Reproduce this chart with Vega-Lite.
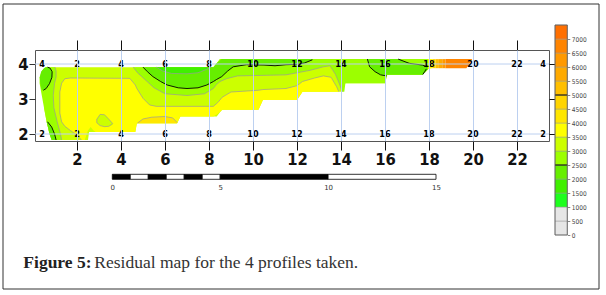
{
  "$schema": "https://vega.github.io/schema/vega-lite/v6.json",
  "width": 514,
  "height": 91,
  "autosize": {"type": "none"},
  "padding": {"left": 35, "top": 50, "right": 57, "bottom": 154},
  "background": "white",
  "config": {"view": {"stroke": "#555555", "strokeWidth": 1}, "axis": {"labelFlush": false, "labelOverlap": false}},
  "datasets": {
    "va": [
      {"p":"E","v":3000,"x":0.5,"y":3.86,"y2":2.75},{"p":"E","v":3000,"x":0.62,"y":3.91,"y2":2.35},{"p":"E","v":3000,"x":0.75,"y":3.91,"y2":2.0},{"p":"E","v":3000,"x":0.85,"y":3.91,"y2":1.83},{"p":"E","v":3000,"x":2.5,"y":3.91,"y2":1.83},{"p":"E","v":3000,"x":2.55,"y":3.91,"y2":2.06},{"p":"E","v":3000,"x":4.65,"y":3.91,"y2":2.06},{"p":"E","v":3000,"x":4.72,"y":3.91,"y2":2.31},{"p":"E","v":3000,"x":6.55,"y":3.91,"y2":2.31},{"p":"E","v":3000,"x":6.7,"y":3.91,"y2":2.5},{"p":"E","v":3000,"x":8.2,"y":3.91,"y2":2.5},{"p":"E","v":3000,"x":8.35,"y":4.02,"y2":2.5},{"p":"E","v":3000,"x":8.5,"y":4.14,"y2":2.62},{"p":"E","v":3000,"x":8.6,"y":4.14,"y2":2.69},{"p":"E","v":3000,"x":10.25,"y":4.14,"y2":2.69},{"p":"E","v":3000,"x":10.45,"y":4.14,"y2":2.97},{"p":"E","v":3000,"x":12.0,"y":4.14,"y2":2.97},{"p":"E","v":3000,"x":12.25,"y":4.14,"y2":3.21},{"p":"E","v":3000,"x":14.0,"y":4.14,"y2":3.21},{"p":"E","v":3000,"x":14.2,"y":4.14,"y2":3.45},{"p":"E","v":3000,"x":16.0,"y":4.14,"y2":3.45},{"p":"E","v":3000,"x":16.1,"y":4.14,"y2":3.69},{"p":"E","v":3000,"x":17.7,"y":4.14,"y2":3.69},{"p":"E","v":3000,"x":17.85,"y":4.14,"y2":3.78},{"p":"E","v":3000,"x":18.0,"y":4.14,"y2":3.88},
      {"p":"Y","v":3500,"x":1.22,"y":3.2,"y2":2.6},{"p":"Y","v":3500,"x":1.3,"y":3.45,"y2":2.35},{"p":"Y","v":3500,"x":1.45,"y":3.58,"y2":2.22},{"p":"Y","v":3500,"x":1.7,"y":3.6,"y2":2.1},{"p":"Y","v":3500,"x":2.0,"y":3.6,"y2":1.97},{"p":"Y","v":3500,"x":2.2,"y":3.6,"y2":1.83},{"p":"Y","v":3500,"x":2.35,"y":3.6,"y2":1.83},{"p":"Y","v":3500,"x":2.5,"y":3.6,"y2":2.1},{"p":"Y","v":3500,"x":2.62,"y":3.6,"y2":2.2},{"p":"Y","v":3500,"x":2.75,"y":3.6,"y2":2.1},{"p":"Y","v":3500,"x":2.85,"y":3.6,"y2":2.06},{"p":"Y","v":3500,"x":4.0,"y":3.6,"y2":2.06},{"p":"Y","v":3500,"x":4.4,"y":3.59,"y2":2.06},{"p":"Y","v":3500,"x":4.65,"y":3.4,"y2":2.06},{"p":"Y","v":3500,"x":4.72,"y":3.3,"y2":2.31},{"p":"Y","v":3500,"x":5.0,"y":3.02,"y2":2.31},{"p":"Y","v":3500,"x":5.3,"y":2.83,"y2":2.31},{"p":"Y","v":3500,"x":5.6,"y":2.79,"y2":2.31},{"p":"Y","v":3500,"x":6.55,"y":2.79,"y2":2.31},{"p":"Y","v":3500,"x":6.7,"y":2.79,"y2":2.5},{"p":"Y","v":3500,"x":8.2,"y":2.79,"y2":2.5},{"p":"Y","v":3500,"x":8.4,"y":2.9,"y2":2.58},{"p":"Y","v":3500,"x":8.6,"y":3.05,"y2":2.69},{"p":"Y","v":3500,"x":9.0,"y":3.2,"y2":2.69},{"p":"Y","v":3500,"x":10.25,"y":3.25,"y2":2.69},{"p":"Y","v":3500,"x":10.45,"y":3.27,"y2":2.97},{"p":"Y","v":3500,"x":11.5,"y":3.3,"y2":2.97},{"p":"Y","v":3500,"x":12.0,"y":3.38,"y2":2.97},{"p":"Y","v":3500,"x":12.25,"y":3.5,"y2":3.21},{"p":"Y","v":3500,"x":12.8,"y":3.6,"y2":3.21},{"p":"Y","v":3500,"x":13.2,"y":3.66,"y2":3.21},{"p":"Y","v":3500,"x":13.55,"y":3.62,"y2":3.21},{"p":"Y","v":3500,"x":13.8,"y":3.35,"y2":3.21},{"p":"Y","v":3500,"x":13.9,"y":3.21,"y2":3.21},
      {"p":"D","v":4000,"x":4.75,"y":2.33,"y2":2.31},{"p":"D","v":4000,"x":5.0,"y":2.43,"y2":2.31},{"p":"D","v":4000,"x":5.4,"y":2.48,"y2":2.31},{"p":"D","v":4000,"x":6.0,"y":2.5,"y2":2.31},{"p":"D","v":4000,"x":6.35,"y":2.46,"y2":2.31},{"p":"D","v":4000,"x":6.55,"y":2.33,"y2":2.31},
      {"p":"I","v":3000,"x":2.9,"y":2.42,"y2":2.32},{"p":"I","v":3000,"x":3.05,"y":2.56,"y2":2.24},{"p":"I","v":3000,"x":3.25,"y":2.55,"y2":2.21},{"p":"I","v":3000,"x":3.45,"y":2.42,"y2":2.22},{"p":"I","v":3000,"x":3.62,"y":2.3,"y2":2.26},
      {"p":"B1","v":2500,"x":4.55,"y":3.91,"y2":3.91},{"p":"B1","v":2500,"x":4.75,"y":3.91,"y2":3.75},{"p":"B1","v":2500,"x":5.1,"y":3.91,"y2":3.55},{"p":"B1","v":2500,"x":5.5,"y":3.91,"y2":3.32},{"p":"B1","v":2500,"x":6.0,"y":3.91,"y2":3.15},{"p":"B1","v":2500,"x":7.0,"y":3.91,"y2":3.1},{"p":"B1","v":2500,"x":7.8,"y":3.91,"y2":3.15},{"p":"B1","v":2500,"x":8.2,"y":3.91,"y2":3.3},{"p":"B1","v":2500,"x":8.35,"y":4.02,"y2":3.42},{"p":"B1","v":2500,"x":8.5,"y":4.14,"y2":3.5},{"p":"B1","v":2500,"x":8.8,"y":4.14,"y2":3.58},{"p":"B1","v":2500,"x":9.3,"y":4.14,"y2":3.66},{"p":"B1","v":2500,"x":11.5,"y":4.14,"y2":3.69},{"p":"B1","v":2500,"x":12.6,"y":4.14,"y2":3.82},{"p":"B1","v":2500,"x":13.2,"y":4.14,"y2":3.92},{"p":"B1","v":2500,"x":13.5,"y":4.14,"y2":3.95},{"p":"B1","v":2500,"x":13.75,"y":4.14,"y2":3.7},{"p":"B1","v":2500,"x":13.95,"y":4.14,"y2":3.4},{"p":"B1","v":2500,"x":14.05,"y":4.14,"y2":3.21},{"p":"B1","v":2500,"x":14.15,"y":4.14,"y2":3.21},{"p":"B1","v":2500,"x":14.2,"y":4.14,"y2":3.45},{"p":"B1","v":2500,"x":16.0,"y":4.14,"y2":3.45},{"p":"B1","v":2500,"x":16.1,"y":4.14,"y2":3.69},{"p":"B1","v":2500,"x":17.7,"y":4.14,"y2":3.69},{"p":"B1","v":2500,"x":17.85,"y":4.14,"y2":3.78},{"p":"B1","v":2500,"x":18.0,"y":4.14,"y2":3.88},
      {"p":"G3","v":2000,"x":5.0,"y":3.91,"y2":3.91},{"p":"G3","v":2000,"x":5.2,"y":3.91,"y2":3.78},{"p":"G3","v":2000,"x":5.45,"y":3.91,"y2":3.64},{"p":"G3","v":2000,"x":5.8,"y":3.91,"y2":3.5},{"p":"G3","v":2000,"x":6.1,"y":3.91,"y2":3.4},{"p":"G3","v":2000,"x":6.6,"y":3.91,"y2":3.32},{"p":"G3","v":2000,"x":7.0,"y":3.91,"y2":3.3},{"p":"G3","v":2000,"x":7.5,"y":3.91,"y2":3.32},{"p":"G3","v":2000,"x":7.9,"y":3.91,"y2":3.4},{"p":"G3","v":2000,"x":8.2,"y":3.91,"y2":3.5},{"p":"G3","v":2000,"x":8.35,"y":4.02,"y2":3.56},{"p":"G3","v":2000,"x":8.58,"y":4.14,"y2":3.64},{"p":"G3","v":2000,"x":8.85,"y":4.14,"y2":3.8},{"p":"G3","v":2000,"x":9.1,"y":4.14,"y2":3.92},{"p":"G3","v":2000,"x":9.7,"y":4.14,"y2":3.98},{"p":"G3","v":2000,"x":10.5,"y":4.14,"y2":3.97},{"p":"G3","v":2000,"x":11.0,"y":4.14,"y2":3.95},{"p":"G3","v":2000,"x":11.5,"y":4.14,"y2":3.98},{"p":"G3","v":2000,"x":12.0,"y":4.14,"y2":3.99},{"p":"G3","v":2000,"x":12.35,"y":4.14,"y2":4.03},{"p":"G3","v":2000,"x":12.7,"y":4.14,"y2":4.12},
      {"p":"G2","v":1500,"x":5.6,"y":3.91,"y2":3.91},{"p":"G2","v":1500,"x":5.9,"y":3.91,"y2":3.8},{"p":"G2","v":1500,"x":6.3,"y":3.91,"y2":3.73},{"p":"G2","v":1500,"x":7.0,"y":3.91,"y2":3.72},{"p":"G2","v":1500,"x":7.5,"y":3.91,"y2":3.75},{"p":"G2","v":1500,"x":7.9,"y":3.91,"y2":3.85},{"p":"G2","v":1500,"x":8.1,"y":3.91,"y2":3.91},
      {"p":"G3b","v":2000,"x":15.2,"y":4.14,"y2":4.13},{"p":"G3b","v":2000,"x":15.3,"y":4.14,"y2":3.92},{"p":"G3b","v":2000,"x":15.55,"y":4.14,"y2":3.78},{"p":"G3b","v":2000,"x":15.8,"y":4.14,"y2":3.69},{"p":"G3b","v":2000,"x":16.07,"y":4.14,"y2":3.66},{"p":"G3b","v":2000,"x":16.1,"y":4.14,"y2":3.69},{"p":"G3b","v":2000,"x":16.6,"y":4.14,"y2":3.69},{"p":"G3b","v":2000,"x":17.1,"y":4.02,"y2":3.69},{"p":"G3b","v":2000,"x":17.7,"y":3.97,"y2":3.69},{"p":"G3b","v":2000,"x":17.85,"y":3.95,"y2":3.78},{"p":"G3b","v":2000,"x":17.95,"y":3.91,"y2":3.86},
      {"p":"O1","v":3500,"x":17.95,"y":4.14,"y2":3.86},{"p":"O1","v":3500,"x":18.15,"y":4.14,"y2":3.88},
      {"p":"O2","v":4500,"x":18.15,"y":4.14,"y2":3.88},{"p":"O2","v":4500,"x":18.3,"y":4.14,"y2":3.88},
      {"p":"O3","v":5000,"x":18.3,"y":4.14,"y2":3.88},{"p":"O3","v":5000,"x":18.45,"y":4.14,"y2":3.88},
      {"p":"O4","v":5500,"x":18.45,"y":4.14,"y2":3.88},{"p":"O4","v":5500,"x":18.6,"y":4.14,"y2":3.88},
      {"p":"O5","v":6000,"x":18.6,"y":4.14,"y2":3.88},{"p":"O5","v":6000,"x":18.75,"y":4.14,"y2":3.88},
      {"p":"O6","v":6500,"x":18.75,"y":4.14,"y2":3.88},{"p":"O6","v":6500,"x":19.7,"y":4.14,"y2":3.88},{"p":"O6","v":6500,"x":19.95,"y":4.14,"y2":4.12}
    ],
    "ha": [
      {"p":"B2","v":2500,"y":1.83,"x":0.85,"x2":1.3},{"p":"B2","v":2500,"y":2.0,"x":0.75,"x2":1.25},{"p":"B2","v":2500,"y":2.35,"x":0.62,"x2":1.1},{"p":"B2","v":2500,"y":2.75,"x":0.5,"x2":0.95},{"p":"B2","v":2500,"y":3.1,"x":0.4,"x2":0.92},{"p":"B2","v":2500,"y":3.45,"x":0.3,"x2":0.98},{"p":"B2","v":2500,"y":3.62,"x":0.3,"x2":1.05},{"p":"B2","v":2500,"y":3.8,"x":0.4,"x2":1.05},{"p":"B2","v":2500,"y":3.91,"x":0.55,"x2":1.0},
      {"p":"GL","v":2000,"y":3.25,"x":0.42,"x2":0.47},{"p":"GL","v":2000,"y":3.3,"x":0.38,"x2":0.6},{"p":"GL","v":2000,"y":3.44,"x":0.33,"x2":0.75},{"p":"GL","v":2000,"y":3.62,"x":0.31,"x2":0.86},{"p":"GL","v":2000,"y":3.78,"x":0.37,"x2":0.87},{"p":"GL","v":2000,"y":3.88,"x":0.5,"x2":0.78},{"p":"GL","v":2000,"y":3.91,"x":0.6,"x2":0.66},
      {"p":"GB","v":2000,"y":1.83,"x":0.85,"x2":1.05},{"p":"GB","v":2000,"y":2.0,"x":0.75,"x2":0.98},{"p":"GB","v":2000,"y":2.2,"x":0.68,"x2":0.85},{"p":"GB","v":2000,"y":2.35,"x":0.62,"x2":0.66}
    ],
    "maj": [
      {"id":"M1","i":0,"x":5.0,"y":3.91},{"id":"M1","i":1,"x":5.2,"y":3.78},{"id":"M1","i":2,"x":5.45,"y":3.64},{"id":"M1","i":3,"x":5.8,"y":3.5},{"id":"M1","i":4,"x":6.1,"y":3.4},{"id":"M1","i":5,"x":6.6,"y":3.32},{"id":"M1","i":6,"x":7.0,"y":3.3},{"id":"M1","i":7,"x":7.5,"y":3.32},{"id":"M1","i":8,"x":7.9,"y":3.4},{"id":"M1","i":9,"x":8.2,"y":3.5},{"id":"M1","i":10,"x":8.35,"y":3.56},{"id":"M1","i":11,"x":8.58,"y":3.64},{"id":"M1","i":12,"x":8.85,"y":3.8},{"id":"M1","i":13,"x":9.1,"y":3.92},{"id":"M1","i":14,"x":9.7,"y":3.98},{"id":"M1","i":15,"x":10.5,"y":3.97},{"id":"M1","i":16,"x":11.0,"y":3.95},{"id":"M1","i":17,"x":11.5,"y":3.98},{"id":"M1","i":18,"x":12.0,"y":3.99},{"id":"M1","i":19,"x":12.35,"y":4.03},{"id":"M1","i":20,"x":12.7,"y":4.12},
      {"id":"M2","i":0,"x":0.47,"y":3.25},{"id":"M2","i":1,"x":0.6,"y":3.3},{"id":"M2","i":2,"x":0.75,"y":3.44},{"id":"M2","i":3,"x":0.86,"y":3.62},{"id":"M2","i":4,"x":0.87,"y":3.78},{"id":"M2","i":5,"x":0.78,"y":3.88},{"id":"M2","i":6,"x":0.66,"y":3.91},
      {"id":"M3","i":0,"x":0.66,"y":2.35},{"id":"M3","i":1,"x":0.85,"y":2.2},{"id":"M3","i":2,"x":0.98,"y":2.0},{"id":"M3","i":3,"x":1.05,"y":1.83},
      {"id":"M4","i":0,"x":15.2,"y":4.14},{"id":"M4","i":1,"x":15.3,"y":3.92},{"id":"M4","i":2,"x":15.55,"y":3.78},{"id":"M4","i":3,"x":15.8,"y":3.69},{"id":"M4","i":4,"x":16.07,"y":3.66},
      {"id":"M5","i":0,"x":16.6,"y":4.14},{"id":"M5","i":1,"x":17.1,"y":4.02},{"id":"M5","i":2,"x":17.7,"y":3.97},{"id":"M5","i":3,"x":17.9,"y":3.92},
      {"id":"M6","i":0,"x":17.72,"y":3.7},{"id":"M6","i":1,"x":17.8,"y":3.78},{"id":"M6","i":2,"x":17.88,"y":3.86}
    ],
    "mnr": [
      {"id":"m1","i":0,"x":4.55,"y":3.91},{"id":"m1","i":1,"x":4.75,"y":3.75},{"id":"m1","i":2,"x":5.1,"y":3.55},{"id":"m1","i":3,"x":5.5,"y":3.32},{"id":"m1","i":4,"x":6.0,"y":3.15},{"id":"m1","i":5,"x":7.0,"y":3.1},{"id":"m1","i":6,"x":7.8,"y":3.15},{"id":"m1","i":7,"x":8.2,"y":3.3},{"id":"m1","i":8,"x":8.35,"y":3.42},{"id":"m1","i":9,"x":8.5,"y":3.5},{"id":"m1","i":10,"x":8.8,"y":3.58},{"id":"m1","i":11,"x":9.3,"y":3.66},{"id":"m1","i":12,"x":11.5,"y":3.69},{"id":"m1","i":13,"x":12.6,"y":3.82},{"id":"m1","i":14,"x":13.2,"y":3.92},{"id":"m1","i":15,"x":13.5,"y":3.95},{"id":"m1","i":16,"x":13.75,"y":3.7},{"id":"m1","i":17,"x":13.95,"y":3.4},{"id":"m1","i":18,"x":14.05,"y":3.21},
      {"id":"m2","i":0,"x":2.2,"y":1.83},{"id":"m2","i":1,"x":2.0,"y":1.97},{"id":"m2","i":2,"x":1.7,"y":2.1},{"id":"m2","i":3,"x":1.45,"y":2.22},{"id":"m2","i":4,"x":1.3,"y":2.35},{"id":"m2","i":5,"x":1.22,"y":2.6},{"id":"m2","i":6,"x":1.22,"y":3.2},{"id":"m2","i":7,"x":1.3,"y":3.45},{"id":"m2","i":8,"x":1.45,"y":3.58},{"id":"m2","i":9,"x":1.7,"y":3.6},{"id":"m2","i":10,"x":4.4,"y":3.59},{"id":"m2","i":11,"x":4.65,"y":3.4},{"id":"m2","i":12,"x":4.72,"y":3.3},{"id":"m2","i":13,"x":5.0,"y":3.02},{"id":"m2","i":14,"x":5.3,"y":2.83},{"id":"m2","i":15,"x":5.6,"y":2.79},{"id":"m2","i":16,"x":8.2,"y":2.79},{"id":"m2","i":17,"x":8.4,"y":2.9},{"id":"m2","i":18,"x":8.6,"y":3.05},{"id":"m2","i":19,"x":9.0,"y":3.2},{"id":"m2","i":20,"x":10.25,"y":3.25},{"id":"m2","i":21,"x":10.45,"y":3.27},{"id":"m2","i":22,"x":11.5,"y":3.3},{"id":"m2","i":23,"x":12.0,"y":3.38},{"id":"m2","i":24,"x":12.25,"y":3.5},{"id":"m2","i":25,"x":12.8,"y":3.6},{"id":"m2","i":26,"x":13.2,"y":3.66},{"id":"m2","i":27,"x":13.55,"y":3.62},{"id":"m2","i":28,"x":13.8,"y":3.35},{"id":"m2","i":29,"x":13.9,"y":3.21},
      {"id":"m3","i":0,"x":5.6,"y":3.91},{"id":"m3","i":1,"x":5.9,"y":3.8},{"id":"m3","i":2,"x":6.3,"y":3.73},{"id":"m3","i":3,"x":7.0,"y":3.72},{"id":"m3","i":4,"x":7.5,"y":3.75},{"id":"m3","i":5,"x":7.9,"y":3.85},{"id":"m3","i":6,"x":8.1,"y":3.91},
      {"id":"m4","i":0,"x":1.3,"y":1.83},{"id":"m4","i":1,"x":1.25,"y":2.0},{"id":"m4","i":2,"x":1.1,"y":2.35},{"id":"m4","i":3,"x":0.95,"y":2.75},{"id":"m4","i":4,"x":0.92,"y":3.1},{"id":"m4","i":5,"x":0.98,"y":3.45},{"id":"m4","i":6,"x":1.05,"y":3.62},{"id":"m4","i":7,"x":1.05,"y":3.8},{"id":"m4","i":8,"x":1.0,"y":3.91},
      {"id":"m5","i":0,"x":2.9,"y":2.42},{"id":"m5","i":1,"x":3.05,"y":2.56},{"id":"m5","i":2,"x":3.25,"y":2.55},{"id":"m5","i":3,"x":3.45,"y":2.42},{"id":"m5","i":4,"x":3.62,"y":2.3},{"id":"m5","i":5,"x":3.45,"y":2.22},{"id":"m5","i":6,"x":3.25,"y":2.21},{"id":"m5","i":7,"x":3.05,"y":2.24},{"id":"m5","i":8,"x":2.9,"y":2.32},{"id":"m5","i":9,"x":2.9,"y":2.42},
      {"id":"m6","i":0,"x":4.75,"y":2.31},{"id":"m6","i":1,"x":5.0,"y":2.43},{"id":"m6","i":2,"x":5.4,"y":2.48},{"id":"m6","i":3,"x":6.0,"y":2.5},{"id":"m6","i":4,"x":6.35,"y":2.46},{"id":"m6","i":5,"x":6.55,"y":2.33}
    ],
    "pr": [{"y": 2}, {"y": 4}],
    "st": [
      {"x":0.41,"y":4,"t":"4"},{"x":2,"y":4,"t":"2"},{"x":4,"y":4,"t":"4"},{"x":6,"y":4,"t":"6"},{"x":8,"y":4,"t":"8"},{"x":10,"y":4,"t":"10"},{"x":12,"y":4,"t":"12"},{"x":14,"y":4,"t":"14"},{"x":16,"y":4,"t":"16"},{"x":18,"y":4,"t":"18"},{"x":20,"y":4,"t":"20"},{"x":22,"y":4,"t":"22"},{"x":23.18,"y":4,"t":"4"},
      {"x":0.41,"y":2,"t":"2"},{"x":2,"y":2,"t":"2"},{"x":4,"y":2,"t":"4"},{"x":6,"y":2,"t":"6"},{"x":8,"y":2,"t":"8"},{"x":10,"y":2,"t":"10"},{"x":12,"y":2,"t":"12"},{"x":14,"y":2,"t":"14"},{"x":16,"y":2,"t":"16"},{"x":18,"y":2,"t":"18"},{"x":20,"y":2,"t":"20"},{"x":22,"y":2,"t":"22"},{"x":23.18,"y":2,"t":"2"}
    ],
    "cb": [
      {"lo":0,"hi":500},{"lo":500,"hi":1000},{"lo":1000,"hi":1500},{"lo":1500,"hi":2000},{"lo":2000,"hi":2500},{"lo":2500,"hi":3000},{"lo":3000,"hi":3500},{"lo":3500,"hi":4000},{"lo":4000,"hi":4500},{"lo":4500,"hi":5000},{"lo":5000,"hi":5500},{"lo":5500,"hi":6000},{"lo":6000,"hi":6500},{"lo":6500,"hi":7000},{"lo":7000,"hi":7500}
    ],
    "cbk": [{"m": 2500}, {"m": 5000}],
    "sb": [
      {"a":0,"b":0.833,"k":"b"},{"a":0.833,"b":1.667,"k":"w"},{"a":1.667,"b":2.5,"k":"b"},{"a":2.5,"b":3.333,"k":"w"},{"a":3.333,"b":4.167,"k":"b"},{"a":4.167,"b":5,"k":"w"},{"a":5,"b":10,"k":"b"},{"a":10,"b":15,"k":"w"}
    ]
  },
  "resolve": {"scale": {"x": "independent", "y": "independent"}, "axis": {"x": "independent", "y": "independent"}},
  "layer": [
    {
      "layer": [
        {
          "data": {"values": [{"f": 1}]},
          "mark": {"type": "rect", "filled": false, "stroke": "#333333", "strokeWidth": 1},
          "encoding": {
            "x": {"datum": 0, "type": "quantitative", "scale": {"domain": [0, 1], "range": [-32, 564], "nice": false, "zero": false}, "axis": null},
            "x2": {"datum": 1},
            "y": {"datum": 0, "type": "quantitative", "scale": {"domain": [0, 1], "range": [239, -46], "nice": false, "zero": false}, "axis": null},
            "y2": {"datum": 1}
          }
        },
        {
          "data": {"values": [{"t": "Figure 5:"}]},
          "mark": {"type": "text", "font": "Liberation Serif", "fontSize": 17.5, "fontWeight": "bold", "align": "left", "baseline": "alphabetic", "color": "#222222"},
          "encoding": {
            "x": {"datum": 0.0341, "type": "quantitative", "scale": {"domain": [0, 1], "range": [-32, 564], "nice": false, "zero": false}, "axis": null},
            "y": {"datum": 0.0726, "type": "quantitative", "scale": {"domain": [0, 1], "range": [239, -46], "nice": false, "zero": false}, "axis": null},
            "text": {"field": "t"}
          }
        },
        {
          "data": {"values": [{"t": "Residual map for the 4 profiles taken."}]},
          "mark": {"type": "text", "font": "Liberation Serif", "fontSize": 17.5, "fontWeight": "normal", "align": "left", "baseline": "alphabetic", "color": "#333333"},
          "encoding": {
            "x": {"datum": 0.1532, "type": "quantitative", "scale": {"domain": [0, 1], "range": [-32, 564], "nice": false, "zero": false}, "axis": null},
            "y": {"datum": 0.0726, "type": "quantitative", "scale": {"domain": [0, 1], "range": [239, -46], "nice": false, "zero": false}, "axis": null},
            "text": {"field": "t"}
          }
        }
      ]
    },
    {
      "encoding": {
        "x": {"field": "x", "type": "quantitative", "scale": {"domain": [0.0909, 23.4545], "nice": false, "zero": false},
              "axis": {"orient": "bottom", "values": [2,4,6,8,10,12,14,16,18,20,22], "title": null, "domain": false, "ticks": true, "tickSize": 9, "tickColor": "#111111", "tickWidth": 1, "grid": true, "gridColor": "#bcd0f0", "gridWidth": 1, "labelFont": "Liberation Sans Narrow, DejaVu Sans Condensed, Liberation Sans, sans-serif", "labelFontWeight": "bold", "labelFontSize": 16.5, "labelColor": "#111111", "labelPadding": 1.5, "zindex": 1}},
        "y": {"field": "y", "type": "quantitative", "scale": {"domain": [1.8, 4.4], "nice": false, "zero": false},
              "axis": {"orient": "left", "values": [2,3,4], "title": null, "domain": false, "ticks": true, "tickSize": 6, "tickColor": "#333333", "grid": false, "labelFont": "Liberation Sans Narrow, DejaVu Sans Condensed, Liberation Sans, sans-serif", "labelFontWeight": "bold", "labelFontSize": 16.5, "labelColor": "#111111", "labelPadding": 1}}
      },
      "layer": [
        {
          "data": {"name": "va"},
          "mark": {"type": "area", "interpolate": "linear"},
          "encoding": {
            "y2": {"field": "y2"},
            "color": {"field": "v", "type": "ordinal", "scale": {"domain": [0,500,1000,1500,2000,2500,3000,3500,4000,4500,5000,5500,6000,6500,7000], "range": ["#e6e6e6","#e6e6e6","#1eff1e","#40f000","#66ee00","#9cff00","#ccff00","#ffff00","#ffe600","#ffd400","#ffbf00","#ffaa00","#ff9900","#ff8400","#ff6f00"]}, "legend": null},
            "detail": {"field": "p"}
          }
        },
        {
          "data": {"name": "ha"},
          "mark": {"type": "area", "orient": "horizontal", "interpolate": "linear"},
          "encoding": {
            "x2": {"field": "x2"},
            "color": {"field": "v", "type": "ordinal", "scale": {"domain": [0,500,1000,1500,2000,2500,3000,3500,4000,4500,5000,5500,6000,6500,7000], "range": ["#e6e6e6","#e6e6e6","#1eff1e","#40f000","#66ee00","#9cff00","#ccff00","#ffff00","#ffe600","#ffd400","#ffbf00","#ffaa00","#ff9900","#ff8400","#ff6f00"]}, "legend": null},
            "detail": {"field": "p"}
          }
        },
        {
          "data": {"name": "mnr"},
          "mark": {"type": "line", "color": "#9a9a9a", "strokeWidth": 0.7},
          "encoding": {"detail": {"field": "id"}, "order": {"field": "i", "type": "quantitative"}}
        },
        {
          "data": {"name": "maj"},
          "mark": {"type": "line", "color": "#000000", "strokeWidth": 0.9},
          "encoding": {"detail": {"field": "id"}, "order": {"field": "i", "type": "quantitative"}}
        }
      ]
    },
    {
      "layer": [
        {
          "data": {"name": "pr"},
          "mark": {"type": "rule", "color": "#bcd0f0", "strokeWidth": 1},
          "encoding": {
            "y": {"field": "y", "type": "quantitative", "scale": {"domain": [1.8, 4.4], "nice": false, "zero": false},
                  "axis": {"orient": "right", "values": [2,3,4], "title": null, "domain": false, "ticks": true, "tickSize": 6, "tickColor": "#111111", "labels": false, "grid": false}}
          }
        },
        {
          "data": {"name": "st"},
          "mark": {"type": "text", "font": "Liberation Sans Narrow, DejaVu Sans Condensed, Liberation Sans, sans-serif", "fontWeight": "bold", "fontSize": 9, "color": "#000000", "align": "center", "baseline": "middle"},
          "encoding": {
            "x": {"field": "x", "type": "quantitative", "scale": {"domain": [0.0909, 23.4545], "nice": false, "zero": false},
                  "axis": {"orient": "top", "values": [2,4,6,8,10,12,14,16,18,20,22], "title": null, "domain": false, "ticks": true, "tickSize": 10, "tickColor": "#111111", "labels": false, "grid": false}},
            "y": {"field": "y", "type": "quantitative", "scale": {"domain": [1.8, 4.4], "nice": false, "zero": false},
                  "axis": {"orient": "right", "values": [2,3,4], "title": null, "domain": false, "ticks": true, "tickSize": 6, "tickColor": "#111111", "labels": false, "grid": false}},
            "text": {"field": "t"}
          }
        }
      ]
    },
    {
      "layer": [
        {
          "data": {"name": "cb"},
          "mark": {"type": "rect", "stroke": "#9a9a9a", "strokeWidth": 0.5},
          "encoding": {
            "x": {"datum": 0, "type": "quantitative", "scale": {"domain": [0, 1], "range": [520, 532.3], "nice": false, "zero": false}, "axis": null},
            "x2": {"datum": 1},
            "y": {"field": "lo", "type": "quantitative", "scale": {"domain": [0, 7500], "range": [185, -25], "nice": false, "zero": false},
                  "axis": {"orient": "right", "offset": 18.3, "values": [0,500,1000,1500,2000,2500,3000,3500,4000,4500,5000,5500,6000,6500,7000], "format": "d", "title": null, "domain": false, "ticks": true, "tickSize": 2.5, "tickColor": "#888888", "grid": false, "labelFont": "Liberation Sans Narrow, DejaVu Sans Condensed, Liberation Sans, sans-serif", "labelFontSize": 6.5, "labelColor": "#444444", "labelPadding": 1.5}},
            "y2": {"field": "hi"},
            "color": {"field": "lo", "type": "ordinal", "scale": {"domain": [0,500,1000,1500,2000,2500,3000,3500,4000,4500,5000,5500,6000,6500,7000], "range": ["#e6e6e6","#e6e6e6","#1eff1e","#40f000","#66ee00","#9cff00","#ccff00","#ffff00","#ffe600","#ffd400","#ffbf00","#ffaa00","#ff9900","#ff8400","#ff6f00"]}, "legend": null}
          }
        },
        {
          "data": {"name": "cbk"},
          "mark": {"type": "rule", "color": "#000000", "strokeWidth": 1},
          "encoding": {
            "x": {"datum": 0, "type": "quantitative", "scale": {"domain": [0, 1], "range": [520, 532.3], "nice": false, "zero": false}, "axis": null},
            "x2": {"datum": 1},
            "y": {"field": "m", "type": "quantitative", "scale": {"domain": [0, 7500], "range": [185, -25], "nice": false, "zero": false},
                  "axis": {"orient": "right", "offset": 18.3, "values": [0,500,1000,1500,2000,2500,3000,3500,4000,4500,5000,5500,6000,6500,7000], "format": "d", "title": null, "domain": false, "ticks": true, "tickSize": 2.5, "tickColor": "#888888", "grid": false, "labelFont": "Liberation Sans Narrow, DejaVu Sans Condensed, Liberation Sans, sans-serif", "labelFontSize": 6.5, "labelColor": "#444444", "labelPadding": 1.5}}
          }
        },
        {
          "data": {"values": [{"f": 1}]},
          "mark": {"type": "rect", "filled": false, "stroke": "#555555", "strokeWidth": 0.8},
          "encoding": {
            "x": {"datum": 0, "type": "quantitative", "scale": {"domain": [0, 1], "range": [520, 532.3], "nice": false, "zero": false}, "axis": null},
            "x2": {"datum": 1},
            "y": {"datum": 0, "type": "quantitative", "scale": {"domain": [0, 7500], "range": [185, -25], "nice": false, "zero": false},
                  "axis": {"orient": "right", "offset": 18.3, "values": [0,500,1000,1500,2000,2500,3000,3500,4000,4500,5000,5500,6000,6500,7000], "format": "d", "title": null, "domain": false, "ticks": true, "tickSize": 2.5, "tickColor": "#888888", "grid": false, "labelFont": "Liberation Sans Narrow, DejaVu Sans Condensed, Liberation Sans, sans-serif", "labelFontSize": 6.5, "labelColor": "#444444", "labelPadding": 1.5}},
            "y2": {"datum": 7500}
          }
        }
      ]
    },
    {
      "data": {"name": "sb"},
      "mark": {"type": "rect", "stroke": "#000000", "strokeWidth": 0.8},
      "encoding": {
        "x": {"field": "a", "type": "quantitative", "scale": {"domain": [0, 15], "range": [77.3, 401], "nice": false, "zero": false},
              "axis": {"orient": "bottom", "offset": 38.3, "values": [0, 5, 10, 15], "title": null, "domain": false, "ticks": false, "tickSize": 0, "grid": false, "labelFont": "DejaVu Sans", "labelFontSize": 7, "labelColor": "#333333", "labelPadding": 4}},
        "x2": {"field": "b"},
        "y": {"datum": 0, "type": "quantitative", "scale": {"domain": [0, 1], "range": [129.3, 124.3], "nice": false, "zero": false}, "axis": null},
        "y2": {"datum": 1},
        "fill": {"field": "k", "type": "nominal", "scale": {"domain": ["b", "w"], "range": ["#000000", "#ffffff"]}, "legend": null}
      }
    }
  ]
}
